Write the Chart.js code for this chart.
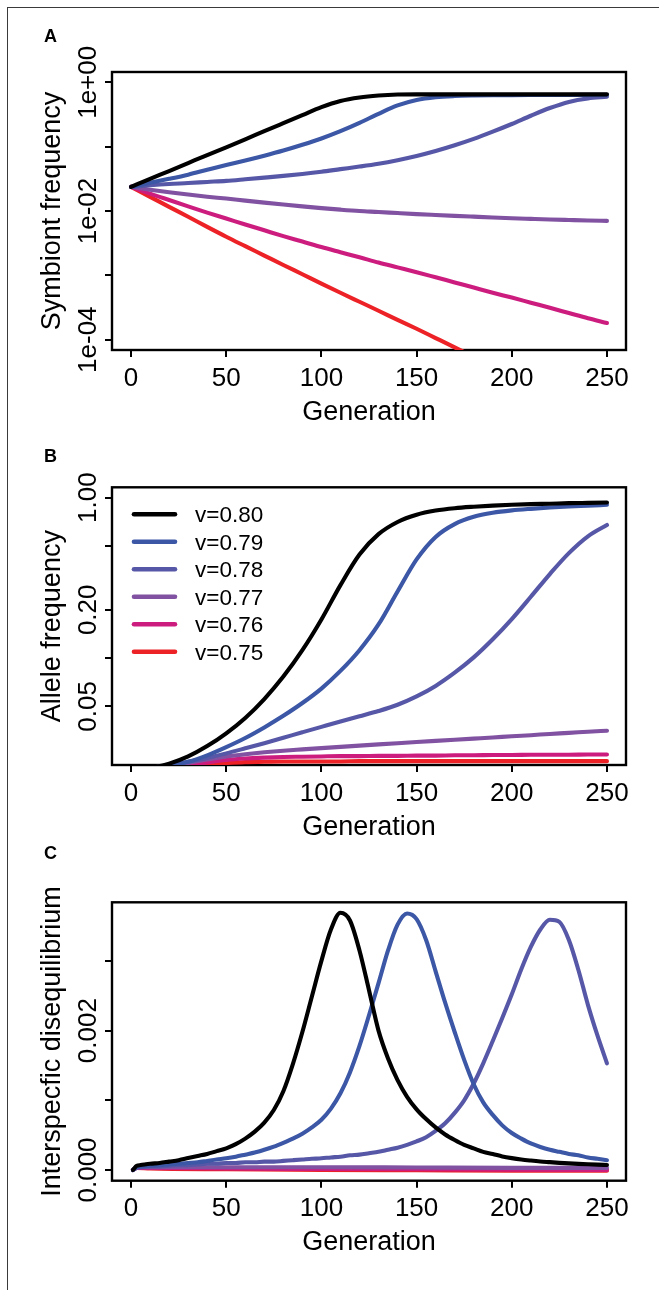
<!DOCTYPE html>
<html><head><meta charset="utf-8">
<script src="https://cdn.jsdelivr.net/npm/chart.js@4/dist/chart.umd.min.js"></script>
<style>
html,body{margin:0;padding:0;background:#fff;}
body{width:659px;height:1290px;position:relative;overflow:hidden;}
canvas{position:absolute;left:0;}
#frame{position:absolute;left:7px;top:7px;width:700px;height:1300px;border-left:1.5px solid #3a3a3a;border-top:1.5px solid #3a3a3a;}
</style></head><body>
<div id="frame"></div>
<canvas id="cA" width="659" height="430" style="top:0px"></canvas>
<canvas id="cB" width="659" height="420" style="top:430px"></canvas>
<canvas id="cC" width="659" height="460" style="top:830px"></canvas>
<script>
// ---------- DATA ----------
const seriesLabels = ['v=0.80','v=0.79','v=0.78','v=0.77','v=0.76','v=0.75'];
const seriesColors = ['#000000','#3b57a6','#5757a7','#8052a1','#cc1d7f','#ec2227'];
const xTicks = [0,50,100,150,200,250];
const xTitle = 'Generation';

// Panel A / B generations
const gensAB = [0,10,20,30,40,50,60,70,80,90,100,110,120,130,140,150,160,170,180,190,200,210,220,230,240,250];

// Panel A: symbiont frequency
const symA_080 = [0.0237,0.0316,0.0417,0.0556,0.0741,0.0977,0.130,0.174,0.232,0.309,0.412,0.513,0.582,0.624,0.646,0.650,0.650,0.650,0.650,0.650,0.650,0.650,0.650,0.650,0.650,0.650];
const symA_079 = [0.0237,0.0275,0.0316,0.0367,0.0437,0.0519,0.0610,0.0724,0.0871,0.107,0.134,0.174,0.234,0.324,0.437,0.531,0.586,0.612,0.624,0.630,0.632,0.634,0.635,0.636,0.637,0.638];
const symA_078 = [0.0237,0.0251,0.0263,0.0272,0.0283,0.0294,0.0311,0.0330,0.0351,0.0376,0.0407,0.0447,0.0490,0.0543,0.0617,0.0716,0.0855,0.105,0.132,0.171,0.225,0.302,0.398,0.496,0.562,0.596];
const symA_077 = [0.0237,0.0214,0.0195,0.0180,0.0167,0.0156,0.0145,0.0135,0.0126,0.0118,0.0111,0.0105,0.0100,0.00966,0.00929,0.00895,0.00867,0.00841,0.00817,0.00794,0.00773,0.00755,0.00738,0.00724,0.00711,0.00702];
const symA_076 = [0.0237,0.0186,0.0148,0.0118,0.00944,0.00764,0.00617,0.00501,0.00407,0.00335,0.00275,0.00229,0.00191,0.00158,0.00133,0.00112,0.000933,0.000776,0.000646,0.000537,0.000452,0.000376,0.000313,0.000260,0.000216,0.000182];
const symA_075 = [0.0237,0.0166,0.0116,0.00813,0.00566,0.00398,0.00284,0.00203,0.00145,0.00104,0.000745,0.000537,0.000389,0.000282,0.000204,0.000148,0.000106,0.0000759,0.0000543];
const yTicksA = [1e-4,1e-3,1e-2,1e-1,1];
const yTextA = ['1e-04','','1e-02','','1e+00'];

// Panel B: allele frequency
const alleleB_080 = [0.0200,0.0207,0.0220,0.0244,0.0283,0.0340,0.0424,0.0556,0.0767,0.112,0.174,0.285,0.442,0.592,0.705,0.782,0.830,0.859,0.877,0.891,0.902,0.910,0.916,0.923,0.927,0.931];
const alleleB_079 = [0.0200,0.0204,0.0213,0.0226,0.0248,0.0279,0.0318,0.0370,0.0437,0.0525,0.0646,0.0832,0.112,0.162,0.260,0.412,0.569,0.684,0.759,0.804,0.832,0.851,0.867,0.881,0.891,0.902];
const alleleB_078 = [0.0200,0.0207,0.0216,0.0226,0.0239,0.0255,0.0274,0.0295,0.0319,0.0345,0.0373,0.0403,0.0434,0.0468,0.0512,0.0577,0.0671,0.0811,0.101,0.131,0.175,0.241,0.334,0.451,0.574,0.675];
const alleleB_077 = [0.0200,0.0204,0.0212,0.0222,0.0234,0.0244,0.0252,0.0259,0.0265,0.0270,0.0275,0.0280,0.0285,0.0290,0.0295,0.0300,0.0305,0.0310,0.0315,0.0320,0.0326,0.0331,0.0337,0.0342,0.0348,0.0353];
const alleleB_076 = [0.0200,0.0203,0.0208,0.0215,0.0224,0.0232,0.0237,0.0240,0.0242,0.0243,0.0244,0.0245,0.0245,0.0246,0.0246,0.0247,0.0247,0.0248,0.0248,0.0249,0.0249,0.0250,0.0250,0.0250,0.0251,0.0251];
const alleleB_075 = [0.0200,0.0202,0.0206,0.0212,0.0218,0.0222,0.0225,0.0226,0.0227,0.0227,0.0227,0.0227,0.0228,0.0228,0.0228,0.0228,0.0228,0.0228,0.0228,0.0228,0.0228,0.0228,0.0228,0.0228,0.0228,0.0228];
const yTicksB = [0.05,0.1,0.2,0.5,1];
const yTextB = ['0.05','','0.20','','1.00'];

// Panel C: interspecific disequilibrium
const gensC = [1,3,5,10,15,20,25,30,35,40,45,50,55,60,65,70,75,80,85,90,95,100,105,110,115,120,125,130,135,140,145,150,155,160,165,170,175,180,185,190,195,200,205,210,215,220,225,230,235,240,245,250];
const ldC_080 = [0,0.00006,0.00007,0.00009,0.00010,0.00012,0.00014,0.00017,0.00020,0.00023,0.00027,0.00031,0.00037,0.00045,0.00055,0.00068,0.00086,0.00113,0.00152,0.00198,0.00249,0.00300,0.00345,0.00369,0.00358,0.00315,0.00258,0.00200,0.00160,0.00129,0.00105,0.00087,0.00073,0.00061,0.00051,0.00043,0.00036,0.00031,0.00026,0.00023,0.000195,0.000170,0.000150,0.000135,0.000122,0.000112,0.000102,0.000094,0.000087,0.000081,0.000076,0.000072];
const ldC_079 = [0,0.00004,0.00005,0.00006,0.00007,0.00008,0.00009,0.00010,0.00011,0.00013,0.00015,0.000167,0.00019,0.00022,0.00025,0.00029,0.000335,0.00039,0.00045,0.00052,0.00061,0.00072,0.00088,0.00110,0.00140,0.00178,0.00222,0.00268,0.00315,0.00352,0.00368,0.00360,0.00330,0.00285,0.00240,0.00198,0.00158,0.00123,0.00097,0.00079,0.00064,0.00053,0.00045,0.00038,0.00033,0.00029,0.00026,0.00023,0.00021,0.00018,0.00016,0.00014];
const ldC_078 = [0,0.00003,0.00004,0.00005,0.00005,0.00006,0.00007,0.00007,0.00008,0.00009,0.00009,0.00010,0.00010,0.00011,0.00011,0.00012,0.00012,0.00013,0.00014,0.00015,0.00016,0.000167,0.00018,0.00019,0.00021,0.00022,0.00024,0.00026,0.00029,0.00032,0.00036,0.00041,0.00047,0.00056,0.00067,0.00082,0.00100,0.00124,0.00153,0.00185,0.00218,0.00252,0.00288,0.00320,0.00345,0.00359,0.00356,0.00330,0.00287,0.00237,0.00193,0.00153];
const gensCLow = [1,3,10,50,100,150,200,250];
const ldC_077 = [0,0.00004,0.00004,0.00004,0.00004,0.000035,0.00003,0.00003];
const ldC_076 = [0,0.00003,0.00003,0.00002,0.000015,0.00001,0.000005,0];
const ldC_075 = [0,0.00003,0.00002,0.00001,0,-0.000005,-0.00001,-0.00001];
const yTicksC = [0,0.001,0.002,0.003];
const yTextC = ['0.000','','0.002',''];

// ---------- RENDERING ----------
const FONT = '"Liberation Sans", Arial, Helvetica, sans-serif';
const panelCfg = {
  cA:{letter:'A', letterY:42, yTitle:'Symbiont frequency', yTickVals:yTicksA, yTickText:yTextA, legend:false},
  cB:{letter:'B', letterY:32, yTitle:'Allele frequency', yTickVals:yTicksB, yTickText:yTextB, legend:true},
  cC:{letter:'C', letterY:29, yTitle:'Interspecfic disequilibrium', yTickVals:yTicksC, yTickText:yTextC, legend:false}
};

const panelDeco = {
  id:'panelDeco',
  beforeDatasetsDraw(chart){
    const a = chart.chartArea, ctx = chart.ctx;
    ctx.save();
    ctx.strokeStyle='#000'; ctx.lineWidth=2.4;
    ctx.strokeRect(a.left, a.top, a.right-a.left, a.bottom-a.top);
    ctx.restore();
  },
  afterDatasetsDraw(chart){
    const p = panelCfg[chart.canvas.id];
    const ctx = chart.ctx, a = chart.chartArea;
    const xs = chart.scales.x, ys = chart.scales.y;
    ctx.save();
    ctx.fillStyle='#000';
    ctx.font='26px '+FONT; ctx.textAlign='center'; ctx.textBaseline='alphabetic';
    xTicks.forEach(v=>ctx.fillText(String(v), xs.getPixelForValue(v), a.bottom+35.5));
    p.yTickVals.forEach((v,i)=>{
      const t=p.yTickText[i]; if(!t) return;
      ctx.save(); ctx.translate(a.left-16.5, ys.getPixelForValue(v)); ctx.rotate(-Math.PI/2);
      ctx.fillText(t,0,0); ctx.restore();
    });
    ctx.font='27px '+FONT;
    ctx.fillText(xTitle, (a.left+a.right)/2, a.bottom+69.5);
    ctx.save(); ctx.translate(a.left-52.5, (a.top+a.bottom)/2); ctx.rotate(-Math.PI/2);
    ctx.fillText(p.yTitle,0,0); ctx.restore();
    ctx.font='bold 18px '+FONT; ctx.textAlign='left';
    ctx.fillText(p.letter, 44, p.letterY);
    if (p.legend) {
      ctx.font='22.5px '+FONT;
      seriesLabels.forEach((lab,i)=>{
        const yy = a.top + 27 + 27.5*i;
        ctx.strokeStyle=seriesColors[i]; ctx.lineWidth=4.6; ctx.lineCap='round';
        ctx.beginPath(); ctx.moveTo(a.left+22, yy); ctx.lineTo(a.left+63, yy); ctx.stroke();
        ctx.fillText(lab, a.left+83, yy+8);
      });
    }
    ctx.restore();
  }
};

function makePanel(id, series, yType, yMin, yMax, yTicks, padTop, bottomY){
  const cv = document.getElementById(id);
  const H = cv.height;
  return new Chart(cv, {
    type:'line',
    data:{datasets: series.map((s,i)=>({
      label: seriesLabels[i],
      data: s.y.map((v,j)=>({x:s.x[j], y:v})),
      borderColor: seriesColors[i], backgroundColor: seriesColors[i],
      borderWidth:4.1, pointRadius:0, pointHoverRadius:0, fill:false,
      cubicInterpolationMode:'monotone', borderCapStyle:'round', borderJoinStyle:'round', clip:0
    }))},
    options:{
      responsive:false, animation:false, devicePixelRatio:1,
      layout:{padding:{left:0,right:33,top:padTop,bottom:0}},
      plugins:{legend:{display:false}, tooltip:{enabled:false}},
      events:[],
      scales:{
        x:{type:'linear', min:-10, max:260,
           afterBuildTicks:s=>{ s.ticks = xTicks.map(v=>({value:v})); },
           afterFit:s=>{ s.height = H-bottomY; },
           ticks:{display:false},
           grid:{drawOnChartArea:false, drawTicks:true, tickLength:7, color:'#000', lineWidth:2},
           border:{display:false}},
        y:{type:yType, min:yMin, max:yMax,
           afterBuildTicks:s=>{ s.ticks = yTicks.map(v=>({value:v})); },
           afterFit:s=>{ s.width = 112; },
           ticks:{display:false},
           grid:{drawOnChartArea:false, drawTicks:true, tickLength:7, color:'#000', lineWidth:2},
           border:{display:false}}
      }
    },
    plugins:[panelDeco]
  });
}

makePanel('cA', [
  {x:gensAB, y:symA_080},{x:gensAB, y:symA_079},{x:gensAB, y:symA_078},
  {x:gensAB, y:symA_077},{x:gensAB, y:symA_076},{x:gensAB, y:symA_075}
], 'logarithmic', Math.pow(10,-4.16), Math.pow(10,0.16), yTicksA, 72, 350);

makePanel('cB', [
  {x:gensAB, y:alleleB_080},{x:gensAB, y:alleleB_079},{x:gensAB, y:alleleB_078},
  {x:gensAB, y:alleleB_077},{x:gensAB, y:alleleB_076},{x:gensAB, y:alleleB_075}
], 'logarithmic', 0.02158, 1.159, yTicksB, 57.3, 335);

makePanel('cC', [
  {x:gensC, y:ldC_080},{x:gensC, y:ldC_079},{x:gensC, y:ldC_078},
  {x:gensCLow, y:ldC_077},{x:gensCLow, y:ldC_076},{x:gensCLow, y:ldC_075}
], 'linear', -0.000154, 0.003841, yTicksC, 72.3, 350.7);
</script></body></html>
